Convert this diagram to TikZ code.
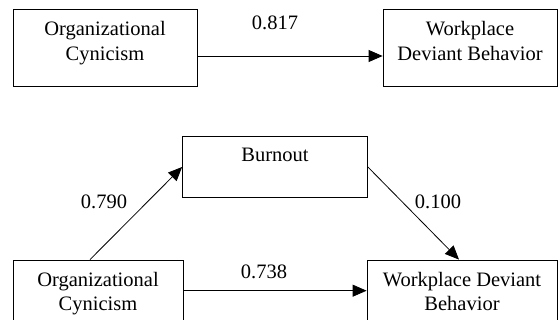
\documentclass[tikz,border=0pt]{standalone}
\usepackage{fontspec}
\setmainfont{Liberation Serif}
\usetikzlibrary{arrows.meta}

\begin{document}
\begin{tikzpicture}[x=1pt, y=-1pt,
	every node/.style={font=\fontsize{20.5}{24.6}\selectfont},
	varbox/.style={draw, line width=0.8pt, rectangle, align=center, inner sep=0pt,
		text height=51pt, text depth=26pt},
	effect/.style={-{Triangle[length=14pt,width=12pt]}, line width=0.8pt}]
\clip (0,0) rectangle (558,320);
% total effect
\node[varbox, minimum width=184pt] (oc1) at (105,48) {Organizational\\Cynicism};
\node[varbox, minimum width=174pt] (wdb1) at (470,48) {Workplace\\Deviant Behavior};
\draw[effect] ([yshift=-8pt]oc1.east) -- ([yshift=-8pt]wdb1.west);
\node (c1) at (275,23) {0.817};
% mediation model
\node[varbox, minimum width=185pt, text height=25.5pt, text depth=36.2pt] (bo) at (275,167) {Burnout};
\node[varbox, minimum width=170pt] (oc2) at (98,298.5) {Organizational\\Cynicism};
\node[varbox, minimum width=190pt] (wdb2) at (462,298.5) {Workplace Deviant\\Behavior};
\draw[effect] ([xshift=-8pt]oc2.north) -- (bo.west);
\draw[effect] (bo.east) -- ([xshift=-3pt]wdb2.north);
\draw[effect] ([yshift=7.8pt]oc2.east) -- ([yshift=7.8pt]wdb2.west);
\node (a) at (104,202) {0.790};
\node (b) at (438,202) {0.100};
\node (c2) at (264,272) {0.738};
\end{tikzpicture}
\end{document}
